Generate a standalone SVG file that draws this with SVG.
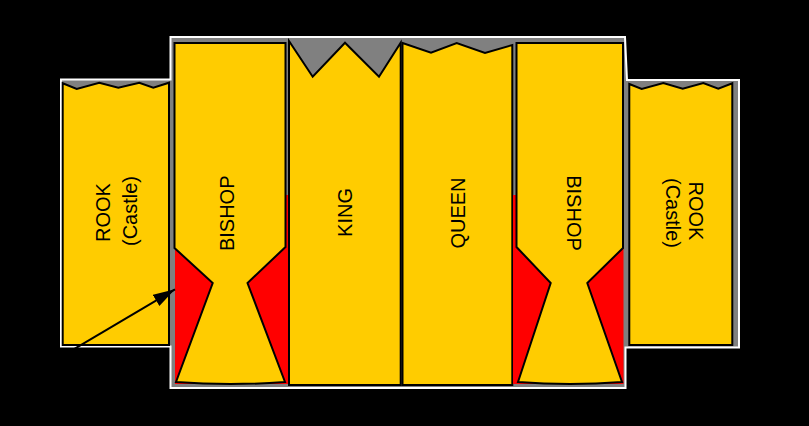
<svg xmlns="http://www.w3.org/2000/svg" width="809" height="426" viewBox="0 0 809 426">
<defs>
<style>
.frame{fill:#808080;stroke:#ffffff;stroke-width:2}
.piece{fill:#ffcc00;stroke:#000000;stroke-width:2;stroke-linejoin:miter}
.red{fill:#ff0000;stroke:none}
.lbl{font-family:"Liberation Sans",Arial,sans-serif;font-size:20px;fill:#000000;text-anchor:middle}
.conn{stroke:#000000;stroke-width:2;fill:none}
</style>
<marker id="arrow" markerUnits="userSpaceOnUse" markerWidth="24" markerHeight="14" refX="22" refY="6.5" orient="auto">
<path d="M0,0 L22,6.5 L0,13 Z" fill="#000000"/>
</marker>
</defs>
<rect x="0" y="0" width="809" height="426" fill="#000000"/>
<path class="frame" d="M61,79.5 L170.5,79.5 L170.5,37 L625,37 L627,80 L739,80 L739,347.5 L625.5,347.5 L625.5,388 L170.5,388 L170.5,346.5 L61,346.5 Z"/>
<g id="rook-left">
<path class="piece" d="M62.7,83.3 L76.7,89 L99.3,82.7 L118.3,87.7 L139.3,82.7 L153.3,87.7 L169,82.7 L169,345 L62.7,345 Z"/>
<text class="lbl" transform="translate(110,212.5) rotate(-90)">ROOK</text>
<text class="lbl" transform="translate(136.5,211) rotate(-90)">(Castle)</text>
</g>
<g id="bishop-left">
<rect class="red" x="175" y="195" width="113.5" height="189"/>
<path class="piece" d="M174.5,43 L285.5,43 L285.5,247 L247.5,283 L285,382 Q230.5,386 176,382 L212.7,283 L174.5,248 Z"/>
<text class="lbl" transform="translate(234,213.3) rotate(-90)">BISHOP</text>
</g>
<g id="king">
<path class="piece" d="M289,41 L312.7,76.7 L345,42.7 L379,76.7 L400.7,42.7 L400.7,385 L289,385 Z"/>
<text class="lbl" transform="translate(351.5,212.5) rotate(-90)">KING</text>
</g>
<g id="queen">
<path class="piece" d="M402.5,43 L431,52.7 L456.7,43 L485,53 L512.3,45 L512.3,385 L402.5,385 Z"/>
<text class="lbl" transform="translate(464.5,213) rotate(-90)">QUEEN</text>
</g>
<g id="bishop-right">
<rect class="red" x="513" y="195" width="110.5" height="189"/>
<path class="piece" d="M516.5,43 L623,43 L623,248 L587.3,283 L622,382 Q570,386 518,382 L550.7,283 L516.5,247 Z"/>
<text class="lbl" transform="translate(566.5,213) rotate(90)">BISHOP</text>
</g>
<g id="rook-right">
<path class="piece" d="M629.3,84 L641.7,89 L663.3,83 L682.7,88.7 L703.3,83 L718.3,88.7 L732.3,83.3 L732.3,345 L629.3,345 Z"/>
<text class="lbl" transform="translate(688.5,211) rotate(90)">ROOK</text>
<text class="lbl" transform="translate(666,213) rotate(90)">(Castle)</text>
</g>
<g id="connectors">
<line class="conn" x1="0" y1="393" x2="175" y2="289.3" marker-end="url(#arrow)"/>
</g>
</svg>
